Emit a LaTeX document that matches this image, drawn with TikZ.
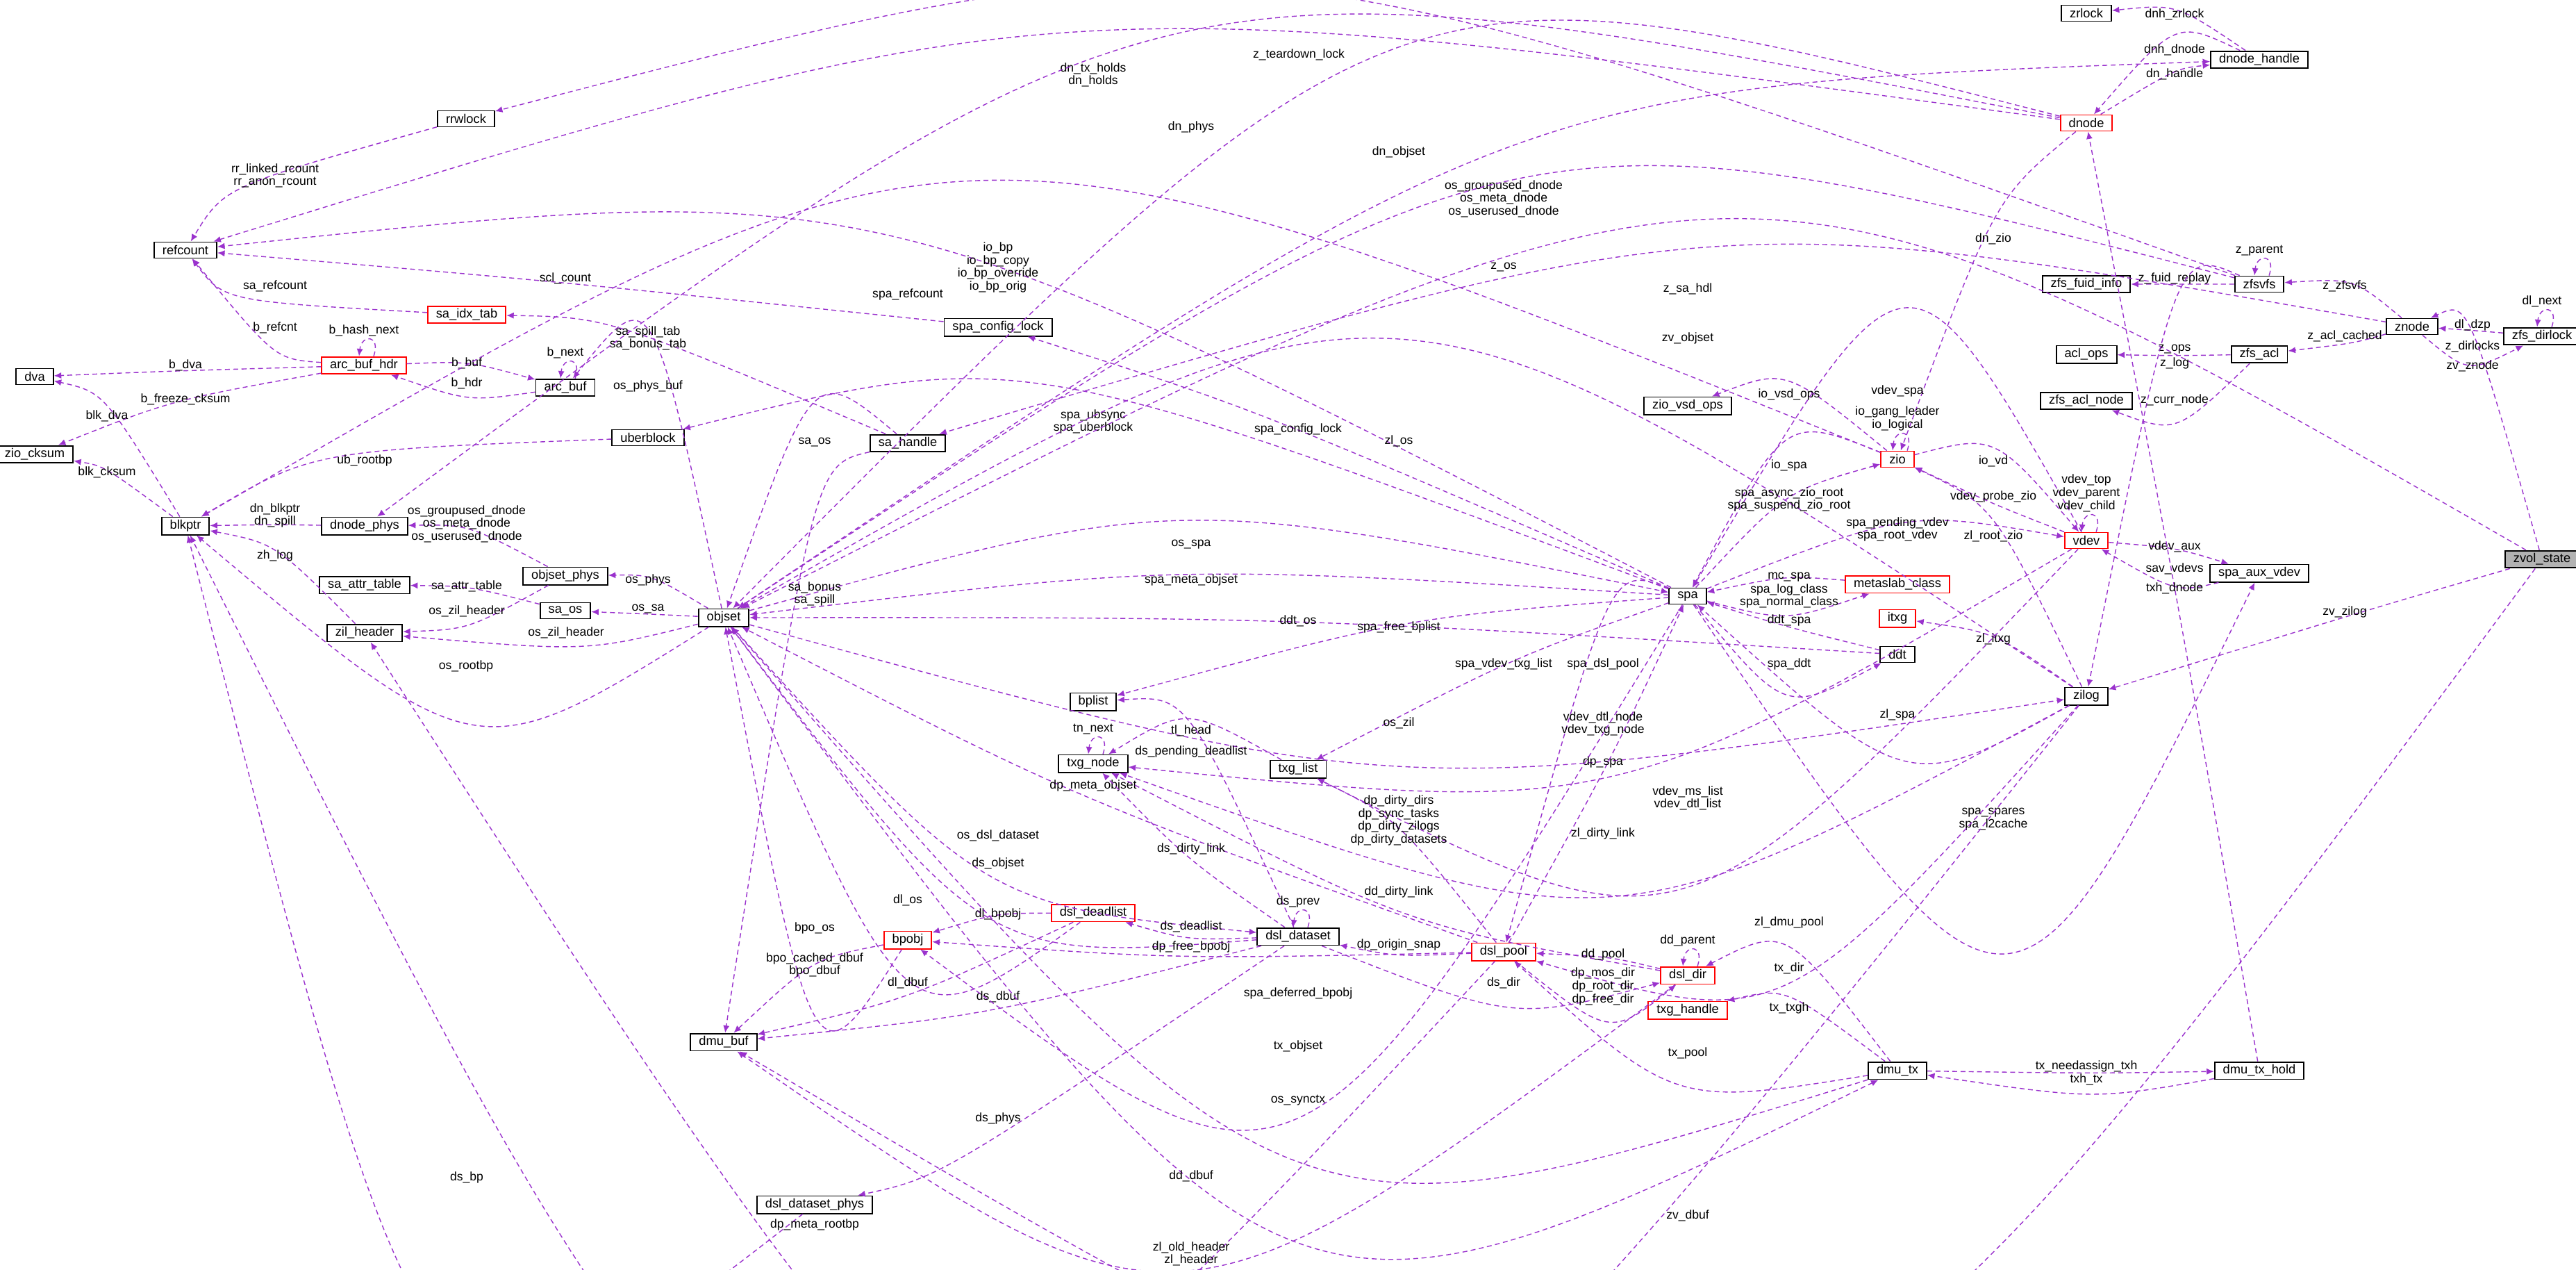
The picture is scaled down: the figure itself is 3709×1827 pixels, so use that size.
\documentclass[tikz,border=0pt]{standalone}
\usepackage{fontspec}
\setmainfont{Liberation Sans}
\usetikzlibrary{calc}
\usetikzlibrary{arrows.meta}
\definecolor{relcol}{RGB}{154,50,205}
% edge through a label point: src, tgt, label centre, label text
\newcommand{\lnk}[5][8]{%
  \coordinate (ctl) at ($2*(#4)+(0,2*#1)-0.5*(#2)-0.5*(#3)$);
  \draw[rel] (#2) .. controls (ctl) .. (#3);
  \node[lbl] at (#4) {#5};}
\newcommand{\selfloop}[2]{%
  \draw[rel] ([xshift=4pt]#1.north) .. controls +(3pt,9pt) and +(1pt,9pt) .. ([xshift=-2pt]#1.north);
  \node[lbl,anchor=south] at ([yshift=8pt]#1.north) {#2};}
\begin{document}
\begin{tikzpicture}[
     x=0.1mm, y=-0.1mm,
     font=\fontsize{5.2}{5.8}\selectfont,
     cls/.style={draw=black,fill=white,line width=0.55pt,minimum height=2.3mm,inner xsep=1.2mm,inner ysep=0.4mm},
     redcls/.style={cls,draw=red},
     cur/.style={cls,fill=black!30},
     rel/.style={relcol,dashed,dash pattern=on 2pt off 1.4pt,line width=0.4pt,-{Latex[length=3pt,width=2.6pt]}},
     lbl/.style={align=center,inner sep=0pt,font=\fontsize{5}{5.3}\selectfont}
   ]
   \useasboundingbox (0,0) rectangle (3709,1827);
   % Structures.
   \node[cls] (rrwlock) at (671,171) {rrwlock};
   \node[cls] (refcount) at (267,360) {refcount};
   \node[redcls] (saidxtab) at (672,453) {sa\_idx\_tab};
   \node[redcls] (arcbufhdr) at (524,526) {arc\_buf\_hdr};
   \node[cls] (dva) at (50,542) {dva};
   \node[cls] (arcbuf) at (814,558) {arc\_buf};
   \node[cls] (ziocksum) at (50,654) {zio\_cksum};
   \node[cls] (uberblock) at (933,630) {uberblock};
   \node[cls] (blkptr) at (267,757) {blkptr};
   \node[cls] (dnodephys) at (525,757) {dnode\_phys};
   \node[cls] (objsetphys) at (814,829) {objset\_phys};
   \node[cls] (saattrtable) at (525,842) {sa\_attr\_table};
   \node[cls] (saos) at (814,879) {sa\_os};
   \node[cls] (objset) at (1042,889) {objset};
   \node[cls] (zilheader) at (525,911) {zil\_header};
   \node[cls] (dmubuf) at (1042,1500) {dmu\_buf};
   \node[cls] (dsldatasetphys) at (1173,1734) {dsl\_dataset\_phys};
   \node[cls] (spaconfiglock) at (1437,471) {spa\_config\_lock};
   \node[cls] (sahandle) at (1307,638) {sa\_handle};
   \node[cls] (ziovsdops) at (2430,584) {zio\_vsd\_ops};
   \node[cls] (spa) at (2430,858) {spa};
   \node[cls] (zrlock) at (3004,19) {zrlock};
   \node[cls] (dnodehandle) at (3253,86) {dnode\_handle};
   \node[redcls] (dnode) at (3004,177) {dnode};
   \node[cls] (zfsfuidinfo) at (3004,409) {zfs\_fuid\_info};
   \node[cls] (zfsvfs) at (3253,409) {zfsvfs};
   \node[cls] (znode) at (3473,470) {znode};
   \node[cls] (zfsdirlock) at (3660,484) {zfs\_dirlock};
   \node[cls] (aclops) at (3004,510) {acl\_ops};
   \node[cls] (zfsacl) at (3253,510) {zfs\_acl};
   \node[cls] (zfsaclnode) at (3004,577) {zfs\_acl\_node};
   \node[redcls] (zio) at (2732,661) {zio};
   \node[redcls] (vdev) at (3004,778) {vdev};
   \node[cls] (spaauxvdev) at (3253,825) {spa\_aux\_vdev};
   \node[cur] (zvolstate) at (3660,805) {zvol\_state};
   \node[redcls] (metaslabclass) at (2732,841) {metaslab\_class};
   \node[redcls] (itxg) at (2732,890) {itxg};
   \node[cls] (ddt) at (2732,942) {ddt};
   \node[cls] (zilog) at (3004,1002) {zilog};
   \node[cls] (bplist) at (1574,1010) {bplist};
   \node[cls] (txgnode) at (1574,1099) {txg\_node};
   \node[cls] (txglist) at (1869,1107) {txg\_list};
   \node[redcls] (dsldeadlist) at (1574,1314) {dsl\_deadlist};
   \node[redcls] (bpobj) at (1307,1353) {bpobj};
   \node[cls] (dsldataset) at (1869,1348) {dsl\_dataset};
   \node[redcls] (dslpool) at (2165,1370) {dsl\_pool};
   \node[redcls] (dsldir) at (2430,1404) {dsl\_dir};
   \node[redcls] (txghandle) at (2430,1454) {txg\_handle};
   \node[cls] (dmutx) at (2732,1541) {dmu\_tx};
   \node[cls] (dmutxhold) at (3253,1541) {dmu\_tx\_hold};
   % Members, left part.
   \lnk[14]{rrwlock}{refcount}{396,253}{rr\_linked\_rcount\\rr\_anon\_rcount}
   \lnk{zfsvfs}{rrwlock}{1870,79}{z\_teardown\_lock}
   \lnk[14]{dnode}{refcount}{1574,108}{dn\_tx\_holds\\dn\_holds}
   \lnk{spaconfiglock}{refcount}{814,401}{scl\_count}
   \lnk{spa}{refcount}{1307,424}{spa\_refcount}
   \lnk{saidxtab}{refcount}{396,412}{sa\_refcount}
   \lnk{arcbufhdr}{refcount}{396,472}{b\_refcnt}
   \lnk{arcbufhdr}{dva}{267,526}{b\_dva}
   \lnk{arcbufhdr}{ziocksum}{267,575}{b\_freeze\_cksum}
   \lnk{arcbufhdr}{arcbuf}{672,523}{b\_buf}
   \lnk{arcbuf}{arcbufhdr}{672,552}{b\_hdr}
   \lnk{objset}{arcbuf}{933,556}{os\_phys\_buf}
   \lnk[14]{sahandle}{saidxtab}{933,487}{sa\_spill\_tab\\sa\_bonus\_tab}
   \lnk{blkptr}{dva}{154,599}{blk\_dva}
   \lnk{blkptr}{ziocksum}{154,680}{blk\_cksum}
   \lnk{uberblock}{blkptr}{525,663}{ub\_rootbp}
   \lnk[27]{zio}{blkptr}{1437,385}{io\_bp\\io\_bp\_copy\\io\_bp\_override\\io\_bp\_orig}
   \lnk[14]{dnodephys}{blkptr}{396,742}{dn\_blkptr\\dn\_spill}
   \lnk{zilheader}{blkptr}{396,800}{zh\_log}
   \lnk{objset}{blkptr}{671,959}{os\_rootbp}
   \lnk{dsldatasetphys}{blkptr}{672,1695}{ds\_bp}
   \lnk{dslpool}{blkptr}{1173,1763}{dp\_meta\_rootbp}
   \lnk[20]{objsetphys}{dnodephys}{672,754}{os\_groupused\_dnode\\os\_meta\_dnode\\os\_userused\_dnode}
   \lnk{objsetphys}{zilheader}{672,880}{os\_zil\_header}
   \lnk{objset}{zilheader}{815,911}{os\_zil\_header}
   \lnk{objset}{objsetphys}{933,835}{os\_phys}
   \lnk{saos}{saattrtable}{672,844}{sa\_attr\_table}
   \lnk{objset}{saos}{933,876}{os\_sa}
   \lnk[14]{spa}{uberblock}{1574,607}{spa\_ubsync\\spa\_uberblock}
   \lnk{dnode}{dnodephys}{1715,183}{dn\_phys}
   \lnk{dnode}{objset}{2014,219}{dn\_objset}
   \lnk[20]{objset}{dnodehandle}{2165,286}{os\_groupused\_dnode\\os\_meta\_dnode\\os\_userused\_dnode}
   \lnk{zfsvfs}{objset}{2165,384}{z\_os}
   \lnk{znode}{sahandle}{2430,416}{z\_sa\_hdl}
   \lnk{zvolstate}{objset}{2430,487}{zv\_objset}
   \lnk{zilog}{objset}{2014,635}{zl\_os}
   \lnk{spa}{spaconfiglock}{1869,618}{spa\_config\_lock}
   \lnk{spa}{objset}{1715,835}{spa\_meta\_objset}
   \lnk{objset}{spa}{1715,784}{os\_spa}
   \lnk{sahandle}{objset}{1173,636}{sa\_os}
   \lnk[14]{sahandle}{dmubuf}{1173,855}{sa\_bonus\\sa\_spill}
   \lnk{ddt}{objset}{1869,894}{ddt\_os}
   % Members, right part.
   \lnk{dnodehandle}{zrlock}{3131,21}{dnh\_zrlock}
   \lnk{dnodehandle}{dnode}{3131,72}{dnh\_dnode}
   \lnk{dnode}{dnodehandle}{3131,107}{dn\_handle}
   \lnk{dnode}{zio}{2870,344}{dn\_zio}
   \lnk{zfsvfs}{zfsfuidinfo}{3131,401}{z\_fuid\_replay}
   \lnk{znode}{zfsvfs}{3376,412}{z\_zfsvfs}
   \lnk{zfsdirlock}{znode}{3560,468}{dl\_dzp}
   \lnk{znode}{zfsdirlock}{3560,499}{z\_dirlocks}
   \lnk{zvolstate}{znode}{3560,527}{zv\_znode}
   \lnk{znode}{zfsacl}{3376,484}{z\_acl\_cached}
   \lnk{zfsacl}{aclops}{3131,503}{z\_ops}
   \lnk{zfsvfs}{zilog}{3131,523}{z\_log}
   \lnk{zfsacl}{zfsaclnode}{3131,576}{z\_curr\_node}
   \lnk{zio}{ziovsdops}{2576,568}{io\_vsd\_ops}
   \lnk{vdev}{spa}{2732,563}{vdev\_spa}
   \lnk{zio}{spa}{2576,670}{io\_spa}
   \lnk[14]{spa}{zio}{2576,719}{spa\_async\_zio\_root\\spa\_suspend\_zio\_root}
   \lnk{zio}{vdev}{2870,664}{io\_vd}
   \lnk{vdev}{zio}{2870,715}{vdev\_probe\_zio}
   \lnk[14]{spa}{vdev}{2732,762}{spa\_pending\_vdev\\spa\_root\_vdev}
   \lnk{zilog}{zio}{2870,772}{zl\_root\_zio}
   \lnk{vdev}{spaauxvdev}{3131,787}{vdev\_aux}
   \lnk{spaauxvdev}{vdev}{3131,819}{sav\_vdevs}
   \lnk{dmutxhold}{dnode}{3131,847}{txh\_dnode}
   \lnk{zvolstate}{zilog}{3376,881}{zv\_zilog}
   \lnk{metaslabclass}{spa}{2576,831}{mc\_spa}
   \lnk[14]{spa}{metaslabclass}{2576,858}{spa\_log\_class\\spa\_normal\_class}
   \lnk{ddt}{spa}{2576,893}{ddt\_spa}
   \lnk{spa}{ddt}{2576,956}{spa\_ddt}
   \lnk{zilog}{itxg}{2870,920}{zl\_itxg}
   \lnk{zilog}{spa}{2732,1029}{zl\_spa}
   \lnk[14]{spa}{spaauxvdev}{2870,1179}{spa\_spares\\spa\_l2cache}
   \lnk{zilog}{dslpool}{2576,1328}{zl\_dmu\_pool}
   \lnk{dmutx}{dsldir}{2576,1394}{tx\_dir}
   \lnk{dmutx}{txghandle}{2576,1451}{tx\_txgh}
   \lnk{dmutx}{dmutxhold}{3004,1535}{tx\_needassign\_txh}
   \lnk{dmutxhold}{dmutx}{3004,1554}{txh\_tx}
   % Members, lower part.
   \lnk{spa}{bplist}{2014,903}{spa\_free\_bplist}
   \lnk{spa}{txglist}{2165,956}{spa\_vdev\_txg\_list}
   \lnk{spa}{dslpool}{2308,956}{spa\_dsl\_pool}
   \lnk{objset}{zilog}{2014,1041}{os\_zil}
   \lnk[14]{vdev}{txgnode}{2308,1042}{vdev\_dtl\_node\\vdev\_txg\_node}
   \lnk{dslpool}{spa}{2308,1097}{dp\_spa}
   \lnk[14]{vdev}{txglist}{2430,1149}{vdev\_ms\_list\\vdev\_dtl\_list}
   \lnk{zilog}{txgnode}{2308,1200}{zl\_dirty\_link}
   \lnk{txglist}{txgnode}{1715,1052}{tl\_head}
   \lnk{dsldataset}{bplist}{1715,1082}{ds\_pending\_deadlist}
   \lnk{dslpool}{objset}{1574,1131}{dp\_meta\_objset}
   \lnk[27]{dslpool}{txglist}{2014,1181}{dp\_dirty\_dirs\\dp\_sync\_tasks\\dp\_dirty\_zilogs\\dp\_dirty\_datasets}
   \lnk{dsldataset}{txgnode}{1715,1222}{ds\_dirty\_link}
   \lnk{dsldir}{txgnode}{2014,1284}{dd\_dirty\_link}
   \lnk{objset}{dsldataset}{1437,1203}{os\_dsl\_dataset}
   \lnk{dsldataset}{objset}{1437,1243}{ds\_objset}
   \lnk{dsldeadlist}{objset}{1307,1296}{dl\_os}
   \lnk{dsldeadlist}{bpobj}{1437,1316}{dl\_bpobj}
   \lnk{dsldataset}{dsldeadlist}{1715,1334}{ds\_deadlist}
   \lnk{dslpool}{dsldataset}{2014,1360}{dp\_origin\_snap}
   \lnk{dslpool}{bpobj}{1715,1363}{dp\_free\_bpobj}
   \lnk{dsldir}{dslpool}{2308,1374}{dd\_pool}
   \lnk{dsldeadlist}{dmubuf}{1307,1415}{dl\_dbuf}
   \lnk{dsldataset}{dmubuf}{1437,1435}{ds\_dbuf}
   \lnk{spa}{bpobj}{1869,1430}{spa\_deferred\_bpobj}
   \lnk{dsldataset}{dsldir}{2165,1415}{ds\_dir}
   \lnk[20]{dslpool}{dsldir}{2308,1420}{dp\_mos\_dir\\dp\_root\_dir\\dp\_free\_dir}
   \lnk{bpobj}{objset}{1173,1336}{bpo\_os}
   \lnk[14]{bpobj}{dmubuf}{1173,1389}{bpo\_cached\_dbuf\\bpo\_dbuf}
   \lnk{dmutx}{objset}{1869,1506}{tx\_objset}
   \lnk{dmutx}{dslpool}{2430,1516}{tx\_pool}
   \lnk{objset}{dmutx}{1869,1584}{os\_synctx}
   \lnk{dsldataset}{dsldatasetphys}{1437,1610}{ds\_phys}
   \lnk{dsldir}{dmubuf}{1715,1693}{dd\_dbuf}
   \lnk{zvolstate}{dmubuf}{2430,1750}{zv\_dbuf}
   \lnk[14]{zilog}{zilheader}{1715,1805}{zl\_old\_header\\zl\_header}
   % Self references.
   \selfloop{arcbufhdr}{b\_hash\_next}
   \selfloop{arcbuf}{b\_next}
   \selfloop{zfsvfs}{z\_parent}
   \selfloop{zfsdirlock}{dl\_next}
   \selfloop{zio}{io\_gang\_leader\\io\_logical}
   \selfloop{vdev}{vdev\_top\\vdev\_parent\\vdev\_child}
   \selfloop{txgnode}{tn\_next}
   \selfloop{dsldataset}{ds\_prev}
   \selfloop{dsldir}{dd\_parent}
 \end{tikzpicture}
\end{document}
